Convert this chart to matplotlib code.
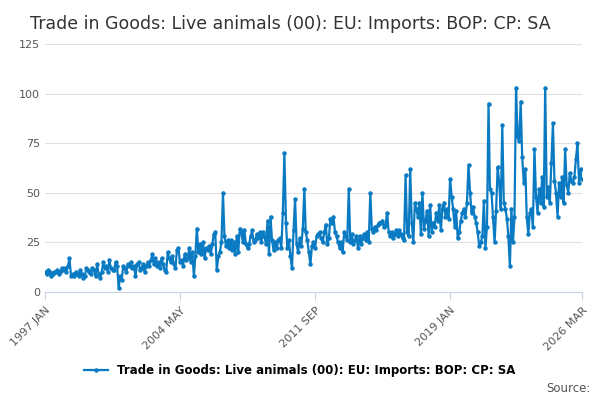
import matplotlib
matplotlib.use("Agg")
import matplotlib.pyplot as plt
import pandas as pd

values = [
10, 9, 11, 10, 8, 9, 10, 10, 11, 9, 10, 12,
11, 12, 10, 13, 17, 8, 9, 8, 10, 9, 8, 11,
9, 7, 8, 12, 11, 10, 9, 12, 11, 8, 14, 9,
7, 10, 15, 12, 13, 10, 16, 12, 11, 11, 15, 13,
2, 8, 6, 13, 12, 10, 14, 13, 15, 12, 13, 8,
14, 15, 11, 12, 14, 10, 13, 15, 13, 16, 19, 14,
17, 13, 15, 12, 17, 14, 11, 10, 20, 17, 15, 18,
14, 12, 21, 22, 15, 16, 13, 19, 16, 17, 22, 15,
20, 8, 18, 32, 20, 24, 19, 25, 17, 22, 21, 23,
19, 24, 29, 30, 11, 18, 20, 25, 50, 28, 23, 26,
22, 26, 21, 25, 19, 28, 20, 32, 30, 25, 31, 24,
22, 24, 28, 31, 25, 26, 29, 27, 30, 25, 30, 28,
24, 36, 19, 38, 26, 21, 25, 22, 26, 27, 22, 40,
70, 35, 22, 26, 18, 12, 31, 47, 24, 20, 27, 23,
32, 52, 30, 26, 20, 14, 23, 25, 22, 28, 29, 30,
27, 25, 30, 34, 24, 27, 37, 35, 38, 30, 28, 25,
22, 25, 20, 30, 28, 26, 52, 25, 29, 24, 26, 28,
22, 28, 24, 27, 29, 26, 30, 25, 50, 32, 30, 33,
31, 34, 35, 35, 36, 33, 34, 40, 30, 28, 30, 27,
29, 31, 28, 31, 29, 27, 26, 59, 30, 28, 62, 35,
25, 45, 42, 38, 45, 29, 50, 32, 36, 41, 28, 44,
30, 35, 33, 40, 36, 44, 31, 42, 45, 38, 42, 37,
57, 48, 42, 33, 41, 27, 30, 36, 40, 42, 38, 45,
64, 50, 40, 43, 38, 35, 30, 23, 25, 28, 46, 22,
33, 95, 52, 50, 38, 25, 41, 63, 55, 42, 84, 45,
42, 37, 28, 13, 42, 25, 38, 103, 78, 76, 96, 68,
55, 62, 38, 29, 40, 42, 33, 72, 48, 40, 52, 45,
58, 43, 103, 48, 53, 45, 65, 85, 56, 50, 38, 55,
48, 58, 45, 72, 54, 50, 60, 56, 55, 58, 67, 75,
55, 62, 57]
dates = pd.date_range("1997-01-01", periods=len(values), freq="MS")
tick_labels = ["1997 JAN", "2004 MAY", "2011 SEP", "2019 JAN", "2026 MAR"]
tick_dates = pd.to_datetime(["1997-01-01", "2004-05-01", "2011-09-01", "2019-01-01", "2026-03-01"])
series_name = "Trade in Goods: Live animals (00): EU: Imports: BOP: CP: SA"

color = "#0a7bc2"
fig = plt.figure(figsize=(6, 4), dpi=100)
ax = fig.add_axes([0.075, 0.27, 0.895, 0.62])
ax.plot(dates, values, color=color, lw=1.6, marker="o", ms=2.2, label=series_name)
ax.set_ylim(0, 125)
ax.set_yticks([0, 25, 50, 75, 100, 125])
ax.set_xlim(dates[0], dates[-1])
ax.set_xticks(tick_dates)
ax.set_xticklabels(tick_labels, rotation=45, ha="right", rotation_mode="anchor", fontsize=8, color="#555555")
ax.tick_params(axis="y", length=0, labelsize=8, labelcolor="#555555")
ax.tick_params(axis="x", length=6, color="#c8d4e6")
ax.grid(axis="y", color="#e0e0e0", lw=0.8)
for s in ["top", "right", "left"]:
    ax.spines[s].set_visible(False)
ax.spines["bottom"].set_color("#c8d4e6")
fig.text(0.05, 0.94, "Trade in Goods: Live animals (00): EU: Imports: BOP: CP: SA", fontsize=12.5, color="#333333", va="center")
fig.legend(loc="lower center", bbox_to_anchor=(0.5, 0.03), frameon=False, prop={"weight": "bold", "size": 8.5}, handlelength=2)
fig.text(0.985, 0.02, "Source:", ha="right", fontsize=8.5, color="#555555")
fig.savefig("out.png")
